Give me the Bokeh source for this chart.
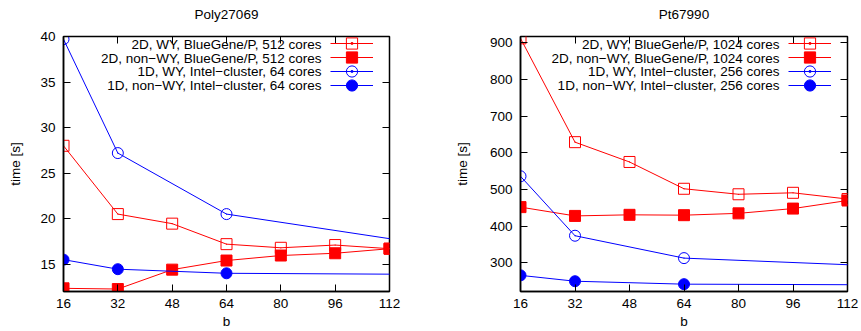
from bokeh.plotting import figure
from bokeh.models import (Range1d, FixedTicker, LinearAxis, Legend, LegendItem, Label)
from bokeh.layouts import row
from bokeh.core.properties import value
from bokeh.embed import file_html
from bokeh.resources import INLINE

# ---------------- data ----------------
b_2d = [16, 32, 48, 64, 80, 96, 112]
b_1d = [16, 32, 64, 128]
x_ticks = [16, 32, 48, 64, 80, 96, 112]
x_label = "b"
y_label = "time [s]"

poly_title = "Poly27069"
poly_2d_wy = [28.0, 20.5, 19.45, 17.2, 16.8, 17.1, 16.7]
poly_2d_nonwy = [12.35, 12.27, 14.4, 15.4, 15.95, 16.2, 16.7]
poly_1d_wy = [39.7, 27.2, 20.5, 16.9]
poly_1d_nonwy = [15.5, 14.45, 14.0, 13.87]
poly_yticks = [15, 20, 25, 30, 35, 40]
poly_labels = ["2D, WY, BlueGene/P, 512 cores",
               "2D, non\u2212WY, BlueGene/P, 512 cores",
               "1D, WY, Intel\u2212cluster, 64 cores",
               "1D, non\u2212WY, Intel\u2212cluster, 64 cores"]

pt_title = "Pt67990"
pt_2d_wy = [912, 629, 575, 502, 487, 491, 474]
pt_2d_nonwy = [452, 428, 431, 430, 435, 448, 470]
pt_1d_wy = [536, 374, 313, 289]
pt_1d_nonwy = [266, 250, 242, 240]
pt_yticks = [300, 400, 500, 600, 700, 800, 900]
pt_labels = ["2D, WY, BlueGene/P, 1024 cores",
             "2D, non\u2212WY, BlueGene/P, 1024 cores",
             "1D, WY, Intel\u2212cluster, 256 cores",
             "1D, non\u2212WY, Intel\u2212cluster, 256 cores"]

FONT = "Liberation Sans"
FS = "13.5px"
RED = "#ff0000"
BLUE = "#0000ff"
HEIGHT = 331
MB_TOP = 36
MB_BOTTOM = 38


def style_axis(ax, ticks, labels=True, standoff=8, label_standoff=16):
    ax.ticker = FixedTicker(ticks=ticks)
    ax.major_tick_in = 7
    ax.major_tick_out = 0
    ax.minor_tick_line_color = None
    ax.major_tick_line_color = "black"
    ax.axis_line_color = "black"
    ax.axis_line_width = 1.5
    ax.major_label_text_font = FONT
    ax.major_label_text_color = "black"
    ax.axis_label_text_font = FONT
    ax.axis_label_text_font_size = FS
    ax.axis_label_text_font_style = "normal"
    ax.axis_label_text_color = "black"
    ax.axis_label_standoff = label_standoff
    if labels:
        ax.major_label_text_font_size = FS
        ax.major_label_standoff = standoff
    else:
        ax.major_label_text_font_size = "0px"
        ax.major_label_text_color = None
        ax.major_label_standoff = 0
        ax.axis_line_color = None


def make_panel(title, yr, yticks, s2w, s2n, s1w, s1n, labels, width, mbl, mbr, ylab_standoff):
    p = figure(width=width, height=HEIGHT, x_range=Range1d(16, 112), y_range=yr,
               output_backend="svg", toolbar_location=None,
               min_border_left=mbl, min_border_right=mbr,
               min_border_top=MB_TOP, min_border_bottom=MB_BOTTOM)
    p.title = None
    p.grid.visible = False
    p.outline_line_color = "black"
    p.outline_line_width = 1.5
    p.outline_line_alpha = 1
    p.background_fill_color = "white"
    p.border_fill_color = "white"

    style_axis(p.xaxis[0], x_ticks, standoff=7, label_standoff=3)
    style_axis(p.yaxis[0], yticks, standoff=8, label_standoff=ylab_standoff)
    p.xaxis.axis_label = x_label
    p.yaxis.axis_label = y_label

    # mirror axis on top; its axis label serves as the panel title
    top = LinearAxis(axis_label=title)
    style_axis(top, x_ticks, labels=False, label_standoff=15)
    p.add_layout(top, "above")
    right = LinearAxis()
    style_axis(right, yticks, labels=False, label_standoff=0)
    p.add_layout(right, "right")

    fw = width - mbl - mbr
    series = [(b_2d, s2w, RED, "square", None),
              (b_2d, s2n, RED, "square", RED),
              (b_1d, s1w, BLUE, "circle", None),
              (b_1d, s1n, BLUE, "circle", BLUE)]
    glyph_rows = [234, 220, 206.5, 192.5]
    text_rows = [246.8, 233.2, 219.8, 206.2]
    for (xs, ys, col, mk, fill), gy, ty, txt in zip(series, glyph_rows, text_rows, labels):
        lr = p.line(xs, ys, line_color=col, line_width=1)
        sr = p.scatter(xs, ys, marker=mk, size=11, line_color=col, line_width=1,
                       fill_color=fill if fill else None)
        rends = [lr, sr]
        if fill is None:
            dr = p.scatter(xs, ys, marker="dot", size=5, line_color=col, fill_color=col)
            rends.append(dr)
        leg = Legend(items=[LegendItem(label=value(""), renderers=rends)],
                     location=(fw - 59, gy), orientation="vertical",
                     glyph_width=43, glyph_height=28, label_height=0, label_width=0,
                     label_standoff=0, padding=0, margin=0, spacing=0,
                     border_line_color=None, background_fill_alpha=0,
                     label_text_font_size="1px", label_text_color=None)
        p.add_layout(leg, "center")
        p.add_layout(Label(x=fw - 68, y=ty, x_units="screen", y_units="screen", text=txt,
                           text_align="right", text_baseline="middle",
                           text_font=FONT, text_font_size=FS, text_color="black"))
    return p


p1 = make_panel(poly_title, Range1d(12, 40), poly_yticks,
                poly_2d_wy, poly_2d_nonwy, poly_1d_wy, poly_1d_nonwy, poly_labels,
                width=430, mbl=63, mbr=41, ylab_standoff=14)
p2 = make_panel(pt_title, Range1d(222, 917), pt_yticks,
                pt_2d_wy, pt_2d_nonwy, pt_1d_wy, pt_1d_nonwy, pt_labels,
                width=431, mbl=90, mbr=14, ylab_standoff=17)

layout = row(p1, p2)
open("out.html", "w").write(file_html(layout, INLINE))
